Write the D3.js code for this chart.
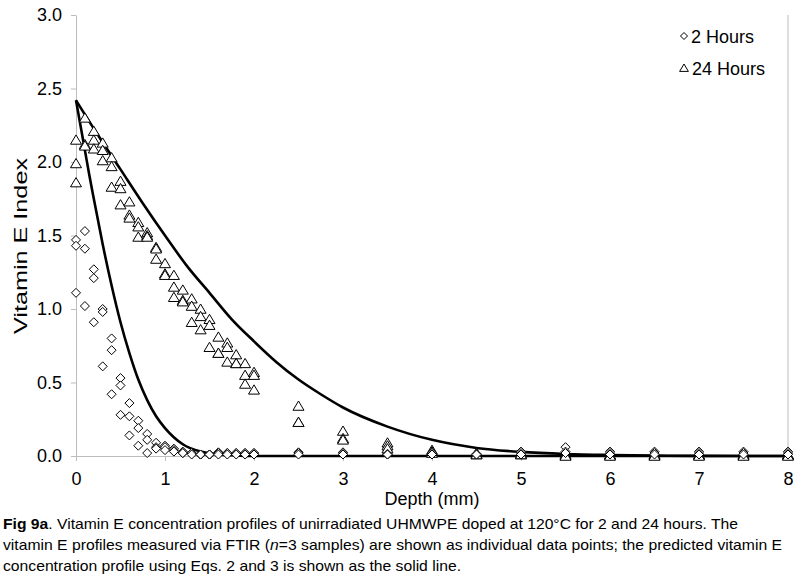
<!DOCTYPE html>
<html>
<head>
<meta charset="utf-8">
<script src="https://cdn.jsdelivr.net/npm/d3@7"></script>
<style>
  html, body { margin: 0; padding: 0; background: #fff; }
  svg { display: block; font-family: "Liberation Sans", Arial, sans-serif; }
</style>
</head>
<body>
<svg id="chart" width="800" height="582"></svg>
<script>
// ---- Data ----
const depths = [0, 0.1, 0.2, 0.3, 0.4, 0.5, 0.6, 0.7, 0.8, 0.9, 1.0, 1.1, 1.2, 1.3, 1.4, 1.5, 1.6, 1.7, 1.8, 1.9, 2.0,
                2.5, 3.0, 3.5, 4.0, 4.5, 5.0, 5.5, 6.0, 6.5, 7.0, 7.5, 8.0];

// Measured Vitamin E index, 2 hours (n=3 samples per depth)
const hours2 = [
  [1.47, 1.43, 1.11], [1.53, 1.41, 1.02], [1.27, 1.21, 0.91], [1.00, 0.98, 0.61], [0.80, 0.72, 0.42],
  [0.53, 0.48, 0.28], [0.36, 0.27, 0.14], [0.24, 0.19, 0.07], [0.15, 0.11, 0.02], [0.09, 0.06, 0.05],
  [0.07, 0.06, 0.04], [0.05, 0.04, 0.03], [0.03, 0.02, 0.02], [0.02, 0.02, 0.01], [0.01, 0.01, 0.01],
  [0.01, 0.01, 0.01], [0.025, 0.02, 0.01], [0.02, 0.02, 0.01], [0.02, 0.02, 0.01], [0.02, 0.02, 0.01],
  [0.02, 0.02, 0.01],
  [0.025, 0.02, 0.01], [0.025, 0.02, 0.01], [0.015, 0.01, 0.01], [0.02, 0.02, 0.01], [0.015, 0.01, 0.01],
  [0.03, 0.02, 0.01], [0.06, 0.03, 0.02], [0.03, 0.02, 0.01], [0.03, 0.02, 0.01], [0.03, 0.02, 0.01],
  [0.03, 0.02, 0.01], [0.03, 0.02, 0.01]
];

// Measured Vitamin E index, 24 hours (n=3 samples per depth)
const hours24 = [
  [2.15, 1.99, 1.86], [2.30, 2.12, 2.11], [2.21, 2.15, 2.09], [2.13, 2.08, 2.01], [2.03, 1.97, 1.83],
  [1.87, 1.82, 1.71], [1.73, 1.64, 1.62], [1.59, 1.56, 1.49], [1.52, 1.50, 1.49], [1.42, 1.41, 1.34],
  [1.31, 1.24, 1.23], [1.23, 1.15, 1.08], [1.13, 1.06, 1.05], [1.07, 1.02, 0.91], [1.00, 0.95, 0.86],
  [0.93, 0.89, 0.74], [0.81, 0.70, 0.70], [0.77, 0.74, 0.64], [0.69, 0.63, 0.63], [0.63, 0.55, 0.49],
  [0.57, 0.55, 0.45],
  [0.34, 0.23, 0.23], [0.17, 0.12, 0.11], [0.09, 0.07, 0.05], [0.04, 0.03, 0.02], [0.02, 0.01, 0.01],
  [0.02, 0.01, 0.01], [0.01, 0.005, 0.0], [0.01, 0.005, 0.0], [0.01, 0.005, 0.0], [0.01, 0.005, 0.0],
  [0.01, 0.005, 0.0], [0.01, 0.005, 0.0]
];

// Predicted profiles (solid lines)
const modelDepth2 = [0, 0.05, 0.1, 0.15, 0.2, 0.3, 0.4, 0.5, 0.6, 0.7, 0.8, 0.9, 1.0, 1.2, 1.4, 1.6, 1.8, 2.0, 3, 4, 5, 6, 7, 8];
const model2      = [2.42, 2.25, 2.08, 1.91, 1.75, 1.44, 1.16, 0.91, 0.70, 0.52, 0.38, 0.27, 0.19, 0.08, 0.03, 0.01, 0.004, 0, 0, 0, 0, 0, 0, 0];
const modelDepth24 = [0, 0.25, 0.5, 0.75, 1.0, 1.25, 1.5, 1.75, 2.0, 2.25, 2.5, 2.75, 3.0, 3.5, 4.0, 4.5, 5.0, 5.5, 6.0, 6.5, 7.0, 8.0];
const model24      = [2.42, 2.18, 1.95, 1.72, 1.50, 1.29, 1.11, 0.93, 0.78, 0.64, 0.52, 0.42, 0.33, 0.20, 0.11, 0.055, 0.028, 0.014, 0.007, 0.003, 0.001, 0];

const xTicks = [0, 1, 2, 3, 4, 5, 6, 7, 8];
const yTicks = [0, 0.5, 1.0, 1.5, 2.0, 2.5, 3.0];
const seriesNames = ["2 Hours", "24 Hours"];

// ---- Drawing ----
const svg = d3.select("#chart");
const x = d3.scaleLinear().domain([0, 8]).range([76, 788]);
const y = d3.scaleLinear().domain([0, 3]).range([456, 15]);
const axisColor = "#bdbdbd";

// Right border of plot area
svg.append("line")
  .attr("x1", x(8)).attr("x2", x(8)).attr("y1", y(3)).attr("y2", y(0))
  .attr("stroke", axisColor).attr("stroke-width", 1);

// Y axis
const gy = svg.append("g").attr("transform", `translate(${x(0)},0)`)
  .call(d3.axisLeft(y).tickValues(yTicks).tickFormat(d3.format(".1f")).tickSize(5).tickSizeOuter(0).tickPadding(9));
// X axis
const gx = svg.append("g").attr("transform", `translate(0,${y(0)})`)
  .call(d3.axisBottom(x).tickValues(xTicks).tickFormat(d3.format("d")).tickSize(5).tickSizeOuter(0).tickPadding(11));

[gx, gy].forEach(g => {
  g.select(".domain").attr("stroke", axisColor);
  g.selectAll(".tick line").attr("stroke", axisColor);
  g.selectAll(".tick text").attr("fill", "#000").style("font-size", "18px")
    .style("font-family", "'Liberation Sans', Arial, sans-serif");
});

// Axis titles
svg.append("text")
  .attr("transform", `translate(27,246) rotate(-90)`)
  .attr("text-anchor", "middle").style("font-size", "19px")
  .attr("textLength", 176).attr("lengthAdjust", "spacingAndGlyphs")
  .text("Vitamin E Index");
svg.append("text")
  .attr("x", (x(0) + x(8)) / 2).attr("y", 505)
  .attr("text-anchor", "middle").style("font-size", "18px").text("Depth (mm)");

// Model lines
const line = d3.line().x(d => x(d[0])).y(d => y(d[1])).curve(d3.curveMonotoneX);
svg.append("path").datum(modelDepth2.map((d, i) => [d, model2[i]]))
  .attr("d", line).attr("fill", "none").attr("stroke", "#000").attr("stroke-width", 2.6);
svg.append("path").datum(modelDepth24.map((d, i) => [d, model24[i]]))
  .attr("d", line).attr("fill", "none").attr("stroke", "#000").attr("stroke-width", 2.6);

// Marker shapes
const diamondPath = r => `M0,${-r}L${r},0L0,${r}L${-r},0Z`;
const trianglePath = r => `M0,${-r}L${r * 1.1},${r * 0.85}L${-r * 1.1},${r * 0.85}Z`;

function points(data) {
  const out = [];
  data.forEach((vals, i) => vals.forEach(v => out.push([depths[i], v])));
  return out;
}

svg.append("g").selectAll("path").data(points(hours24)).join("path")
  .attr("transform", d => `translate(${x(d[0])},${y(d[1])})`)
  .attr("d", trianglePath(5)).attr("fill", "#fff").attr("stroke", "#000").attr("stroke-width", 1);

svg.append("g").selectAll("path").data(points(hours2)).join("path")
  .attr("transform", d => `translate(${x(d[0])},${y(d[1])})`)
  .attr("d", diamondPath(4.5)).attr("fill", "#fff").attr("stroke", "#000").attr("stroke-width", 1);

// Legend
const legend = svg.append("g");
legend.append("path").attr("transform", "translate(684,36)").attr("d", diamondPath(3.5))
  .attr("fill", "#fff").attr("stroke", "#000");
legend.append("text").attr("x", 691).attr("y", 42.5).style("font-size", "18px").text(seriesNames[0]);
legend.append("path").attr("transform", "translate(684,68)").attr("d", trianglePath(4))
  .attr("fill", "#fff").attr("stroke", "#000");
legend.append("text").attr("x", 692).attr("y", 74.5).style("font-size", "18px").text(seriesNames[1]);

// Caption
const cap = svg.append("g").style("font-size", "15px").style("white-space", "pre");
const l1 = cap.append("text").attr("x", 3).attr("y", 529).attr("textLength", 735).attr("lengthAdjust", "spacingAndGlyphs");
l1.append("tspan").style("font-weight", "bold").text("Fig 9a");
l1.append("tspan").text(". Vitamin E concentration profiles of unirradiated UHMWPE doped at 120°C for 2 and 24 hours.  The");
const l2 = cap.append("text").attr("x", 3).attr("y", 550).attr("textLength", 779).attr("lengthAdjust", "spacingAndGlyphs");
l2.append("tspan").text("vitamin E profiles measured via FTIR (");
l2.append("tspan").style("font-style", "italic").text("n");
l2.append("tspan").text("=3 samples) are shown as individual data points; the predicted vitamin E");
const l3 = cap.append("text").attr("x", 3).attr("y", 571).attr("textLength", 458).attr("lengthAdjust", "spacingAndGlyphs");
l3.text("concentration profile using Eqs. 2 and 3 is shown as the solid line.");
</script>
</body>
</html>
